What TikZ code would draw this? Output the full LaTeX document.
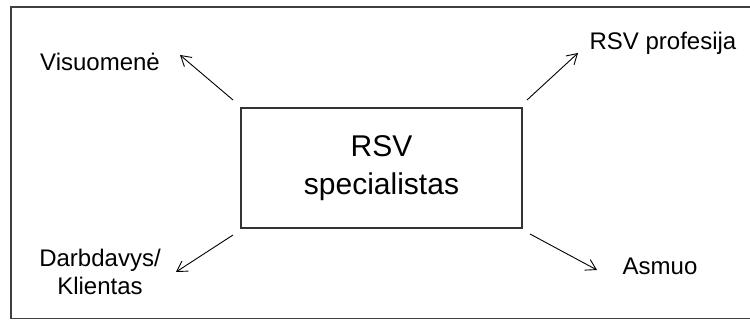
\documentclass[tikz,border=0pt]{standalone}
\usepackage{fontspec}
\setmainfont{Liberation Sans}
\usetikzlibrary{arrows.meta}
\tikzset{
    arr/.style={-{Straight Barb[length=5pt,width=6pt]}, line width=0.45pt},
    lbl/.style={font=\fontsize{12}{14}\selectfont, inner sep=0pt},
}
\begin{document}
\begin{tikzpicture}[x=0.5pt,y=-0.5pt]
    \useasboundingbox (0,0) rectangle (750,320);
    \clip (0,0) rectangle (750,320);
    \draw[line width=0.9pt, black!75] (11,7) rectangle (760,318.5);
    % central box
    \node[draw, line width=0.6pt, black!80, text=black, minimum width=140.5pt, minimum height=60pt,
          align=center, font=\fontsize{15}{19}\selectfont] (box) at (381.5,168) {RSV\\specialistas};
    % labels
    \node[lbl] (vis) at (100,62) {Visuomenė};
    \node[lbl] (prof) at (663,43) {RSV profesija};
    \node[lbl, align=center] (darb) at (100,272) {Darbdavys/\\ Klientas};
    \node[lbl] (asm) at (660,266) {Asmuo};
    % arrow ends
    \coordinate (vs) at (233,100);
    \coordinate (ve) at (180,55);
    \coordinate (ps) at (527,100);
    \coordinate (pe) at (578,53);
    \coordinate (ds) at (233,235);
    \coordinate (de) at (176,272);
    \coordinate (as) at (530,234);
    \coordinate (ae) at (597,270);
    \draw[arr] (vs) -- (ve);
    \draw[arr] (ps) -- (pe);
    \draw[arr] (ds) -- (de);
    \draw[arr] (as) -- (ae);
\end{tikzpicture}
\end{document}
